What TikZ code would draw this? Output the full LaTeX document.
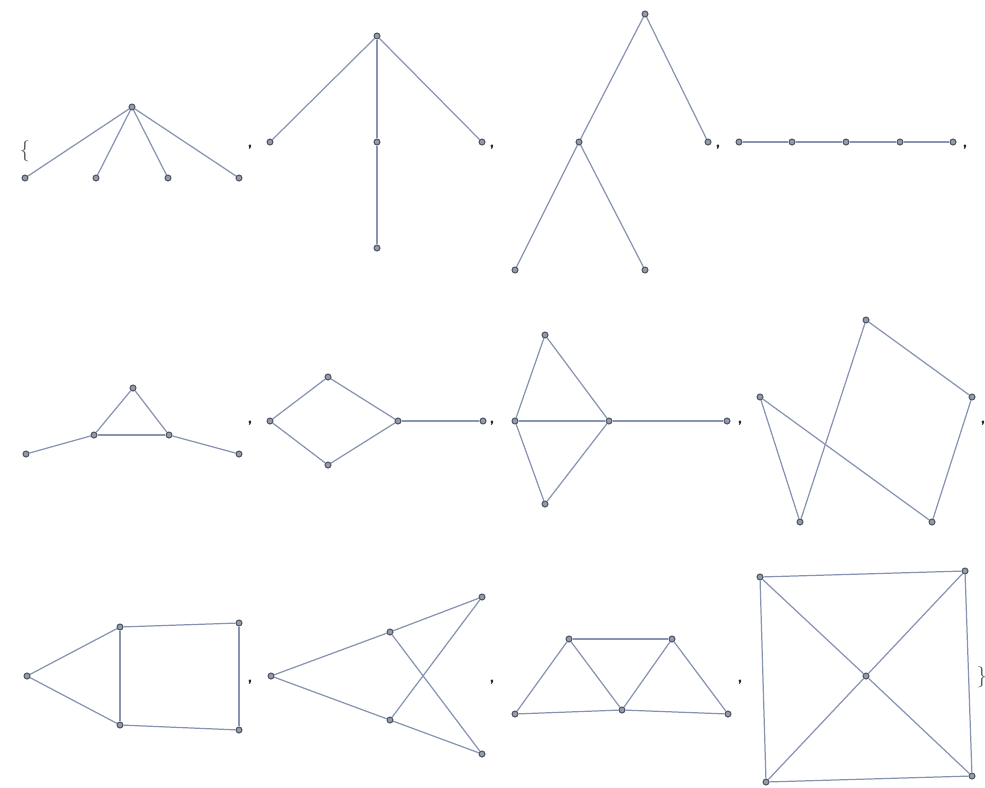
\documentclass[tikz,border=0pt]{standalone}
\usetikzlibrary{positioning}
\definecolor{vtxfill}{RGB}{150,155,170}
\definecolor{vtxline}{RGB}{80,85,100}
\definecolor{edgecol}{RGB}{135,148,178}
\begin{document}
\begin{tikzpicture}[x=0.02cm, y=-0.02cm,
  main/.style = {draw=vtxline, fill=vtxfill, circle, inner sep=0pt, minimum size=3.4pt, line width=0.6pt},
  sep/.style = {font=\sffamily\bfseries, text=black!85, inner sep=0pt},
  brk/.style = {font=\large, text=black!65, inner sep=0pt},
  edge/.style = {draw=edgecol, line width=0.7pt}]
        \useasboundingbox (0,0) rectangle (985,788);
        % brackets and separators
        \node[brk] (open) at (25,151) {\{};
        \node[brk] (close) at (982,677) {\}};
        \node[sep] (s1) at (250,147) {,};
        \node[sep] (s2) at (492,147) {,};
        \node[sep] (s3) at (718,147) {,};
        \node[sep] (s4) at (965,147) {,};
        \node[sep] (s5) at (250,423) {,};
        \node[sep] (s6) at (492,423) {,};
        \node[sep] (s7) at (740,423) {,};
        \node[sep] (s8) at (983,423) {,};
        \node[sep] (s9) at (250,682) {,};
        \node[sep] (s10) at (492,682) {,};
        \node[sep] (s11) at (740,682) {,};
        % star
        \node[main] (a1) at (132,107) {};
        \node[main] (a2) at (25,178) {};
        \node[main] (a3) at (96,178) {};
        \node[main] (a4) at (168,178) {};
        \node[main] (a5) at (239,178) {};
        \draw[edge] (a1) -- (a2);
        \draw[edge] (a1) -- (a3);
        \draw[edge] (a1) -- (a4);
        \draw[edge] (a1) -- (a5);
        % fork
        \node[main] (b1) at (377,36) {};
        \node[main] (b2) at (270,142) {};
        \node[main] (b3) at (377,142) {};
        \node[main] (b4) at (482,142) {};
        \node[main] (b5) at (377,248) {};
        \draw[edge] (b1) -- (b2);
        \draw[edge] (b1) -- (b3);
        \draw[edge] (b1) -- (b4);
        \draw[edge] (b3) -- (b5);
        % tree
        \node[main] (c1) at (645,14) {};
        \node[main] (c2) at (579,142) {};
        \node[main] (c3) at (708,142) {};
        \node[main] (c4) at (515,270) {};
        \node[main] (c5) at (645,270) {};
        \draw[edge] (c1) -- (c2);
        \draw[edge] (c1) -- (c3);
        \draw[edge] (c2) -- (c4);
        \draw[edge] (c2) -- (c5);
        % path
        \node[main] (d1) at (739,142) {};
        \node[main] (d2) at (792,142) {};
        \node[main] (d3) at (846,142) {};
        \node[main] (d4) at (900,142) {};
        \node[main] (d5) at (953,142) {};
        \draw[edge] (d1) -- (d2);
        \draw[edge] (d2) -- (d3);
        \draw[edge] (d3) -- (d4);
        \draw[edge] (d4) -- (d5);
        % bull
        \node[main] (e1) at (133,388) {};
        \node[main] (e2) at (94,435) {};
        \node[main] (e3) at (169,435) {};
        \node[main] (e4) at (26,454) {};
        \node[main] (e5) at (239,454) {};
        \draw[edge] (e1) -- (e2);
        \draw[edge] (e1) -- (e3);
        \draw[edge] (e2) -- (e3);
        \draw[edge] (e2) -- (e4);
        \draw[edge] (e3) -- (e5);
        % kite with tail
        \node[main] (f1) at (270,421) {};
        \node[main] (f2) at (328,377) {};
        \node[main] (f3) at (328,465) {};
        \node[main] (f4) at (398,421) {};
        \node[main] (f5) at (483,421) {};
        \draw[edge] (f1) -- (f2);
        \draw[edge] (f1) -- (f3);
        \draw[edge] (f2) -- (f4);
        \draw[edge] (f3) -- (f4);
        \draw[edge] (f4) -- (f5);
        % diamond with tail
        \node[main] (g1) at (545,335) {};
        \node[main] (g2) at (515,421) {};
        \node[main] (g3) at (545,504) {};
        \node[main] (g4) at (609,421) {};
        \node[main] (g5) at (727,421) {};
        \draw[edge] (g1) -- (g2);
        \draw[edge] (g1) -- (g4);
        \draw[edge] (g2) -- (g4);
        \draw[edge] (g2) -- (g3);
        \draw[edge] (g3) -- (g4);
        \draw[edge] (g4) -- (g5);
        % pentagon
        \node[main] (h1) at (866,320) {};
        \node[main] (h2) at (972,397) {};
        \node[main] (h3) at (760,397) {};
        \node[main] (h4) at (800,522) {};
        \node[main] (h5) at (932,522) {};
        \draw[edge] (h3) -- (h4);
        \draw[edge] (h4) -- (h1);
        \draw[edge] (h1) -- (h2);
        \draw[edge] (h2) -- (h5);
        \draw[edge] (h5) -- (h3);
        % house
        \node[main] (i1) at (27,676) {};
        \node[main] (i2) at (120,627) {};
        \node[main] (i3) at (120,725) {};
        \node[main] (i4) at (239,623) {};
        \node[main] (i5) at (239,730) {};
        \draw[edge] (i1) -- (i2);
        \draw[edge] (i1) -- (i3);
        \draw[edge] (i2) -- (i3);
        \draw[edge] (i2) -- (i4);
        \draw[edge] (i4) -- (i5);
        \draw[edge] (i3) -- (i5);
        % crossed
        \node[main] (j1) at (271,676) {};
        \node[main] (j2) at (390,632) {};
        \node[main] (j3) at (390,720) {};
        \node[main] (j4) at (482,597) {};
        \node[main] (j5) at (482,754) {};
        \draw[edge] (j1) -- (j2);
        \draw[edge] (j2) -- (j4);
        \draw[edge] (j1) -- (j3);
        \draw[edge] (j3) -- (j5);
        \draw[edge] (j2) -- (j5);
        \draw[edge] (j3) -- (j4);
        % triangles
        \node[main] (k1) at (515,714) {};
        \node[main] (k2) at (569,639) {};
        \node[main] (k3) at (622,710) {};
        \node[main] (k4) at (672,639) {};
        \node[main] (k5) at (728,714) {};
        \draw[edge] (k1) -- (k2);
        \draw[edge] (k2) -- (k4);
        \draw[edge] (k2) -- (k3);
        \draw[edge] (k3) -- (k4);
        \draw[edge] (k4) -- (k5);
        \draw[edge] (k1) -- (k3);
        \draw[edge] (k3) -- (k5);
        % wheel
        \node[main] (l1) at (760,577) {};
        \node[main] (l2) at (965,571) {};
        \node[main] (l3) at (866,676) {};
        \node[main] (l4) at (766,782) {};
        \node[main] (l5) at (972,776) {};
        \draw[edge] (l1) -- (l2);
        \draw[edge] (l2) -- (l5);
        \draw[edge] (l5) -- (l4);
        \draw[edge] (l4) -- (l1);
        \draw[edge] (l1) -- (l3);
        \draw[edge] (l3) -- (l5);
        \draw[edge] (l2) -- (l3);
        \draw[edge] (l3) -- (l4);
\end{tikzpicture}
\end{document}
